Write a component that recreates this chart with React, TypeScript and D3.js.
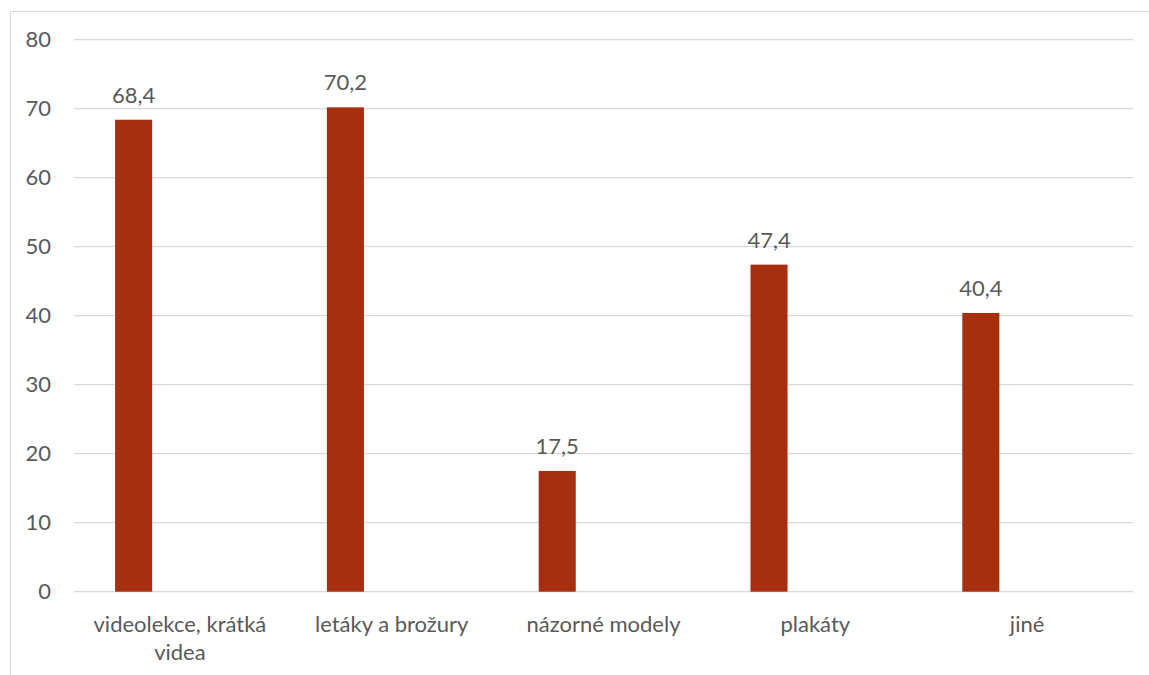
import React from "react";
import * as d3 from "d3";

const categories = ["videolekce, krátká videa", "letáky a brožury", "názorné modely", "plakáty", "jiné"];
const categoryLines = [["videolekce, krátká", "videa"], ["letáky a brožury"], ["názorné modely"], ["plakáty"], ["jiné"]];
const values = [68.4, 70.2, 17.5, 47.4, 40.4];
const valueLabels = ["68,4", "70,2", "17,5", "47,4", "40,4"];
const yTicks = [0, 10, 20, 30, 40, 50, 60, 70, 80];

const W = 1149;
const H = 675;
const FONT = "Lato, 'Open Sans', sans-serif";
const FS = 22;
const TEXT = "#595959";

export default function App() {
  const x = d3.scaleBand<string>().domain(categories).range([74, 1133]).padding(0);
  const y = d3.scaleLinear().domain([0, 80]).range([591.7, 39.7]);
  const bw = x.bandwidth();
  const barOff = bw * 0.194;
  const barW = bw * 0.175;
  return (
    <svg width={W} height={H} style={{ position: "absolute", left: 0, top: 0 }}>
      <rect x={0} y={0} width={W} height={H} fill="#fff" />
      <rect x={10.5} y={11.5} width={W + 20} height={H + 20} fill="none" stroke="#d9d9d9" strokeWidth={1} />
      {yTicks.map((t) => (
        <g key={t}>
          <line x1={74} x2={1133} y1={y(t)} y2={y(t)} stroke="#d9d9d9" strokeWidth={1.3} />
          <text x={51} y={y(t) + 7.5} textAnchor="end" fontFamily={FONT} fontSize={FS} fill={TEXT}>
            {t}
          </text>
        </g>
      ))}
      {categories.map((c, i) => {
        const bx = (x(c) as number) + barOff;
        return (
          <g key={c}>
            <rect x={bx} y={y(values[i])} width={barW} height={y(0) - y(values[i])} fill="#A62F0F" />
            <text x={bx + barW / 2} y={y(values[i]) - 17} textAnchor="middle" fontFamily={FONT} fontSize={FS} fill={TEXT}>
              {valueLabels[i]}
            </text>
            {categoryLines[i].map((ln, j) => (
              <text key={j} x={(x(c) as number) + bw / 2} y={y(0) + 40 + j * 28.5} textAnchor="middle" fontFamily={FONT} fontSize={FS} fill={TEXT}>
                {ln}
              </text>
            ))}
          </g>
        );
      })}
    </svg>
  );
}
